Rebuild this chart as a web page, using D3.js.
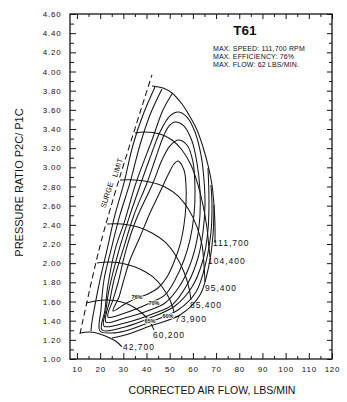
<!DOCTYPE html>
<html><head><meta charset="utf-8">
<script src="https://cdn.jsdelivr.net/npm/d3@7"></script>
<style>
body{margin:0;background:#fff}
svg{display:block}
text{font-family:"Liberation Sans",Arial,Helvetica,sans-serif;fill:#111}
</style>
</head><body>
<svg id="c" width="347" height="402"></svg>
<script>
// ---------- data (flow lbs/min, pressure ratio) ----------
const xTickLabels = [10,20,30,40,50,60,70,80,90,100,110,120];
const yTickLabels = ["1.00","1.20","1.40","1.60","1.80","2.00","2.20","2.40","2.60","2.80","3.00","3.20","3.40","3.60","3.80","4.00","4.20","4.40","4.60"];

const surgeLine = [[11.29,1.261],[19.49,2.137],[26.39,2.732],[42.36,3.964]];

const speedNames = ["111,700","104,400","95,400","85,400","73,900","60,200","42,700"];
const speed111700 = [[42.36,3.849],[47.10,3.828],[50.98,3.776],[55.30,3.661],[58.32,3.546],[61.77,3.390],[64.36,3.212],[66.51,3.024],[68.24,2.816],[69.10,2.607],[69.53,2.398],[69.53,2.210]];
const speed104400 = [[35.02,3.358],[39.34,3.369],[45.81,3.348],[50.98,3.285],[55.30,3.181],[59.18,3.024],[62.20,2.816],[64.36,2.607],[66.08,2.367],[66.94,2.158],[67.38,2.064]];
const speed95400  = [[28.55,2.868],[35.02,2.868],[41.49,2.847],[47.96,2.795],[53.57,2.701],[58.32,2.555],[61.77,2.378],[63.93,2.190],[64.79,1.981],[65.22,1.803]];
const speed85400  = [[22.94,2.409],[29.41,2.409],[36.32,2.377],[42.36,2.315],[47.96,2.221],[52.71,2.075],[56.16,1.908],[58.32,1.741],[59.18,1.616]];
const speed73900  = [[18.63,2.002],[24.24,2.012],[30.71,1.992],[37.18,1.939],[42.79,1.856],[47.10,1.741],[50.12,1.616],[51.85,1.491]];
const speed60200  = [[13.88,1.584],[22.08,1.616],[30.71,1.584],[38.04,1.480],[41.49,1.386],[43.22,1.303]];
const speed42700  = [[11.29,1.271],[15.61,1.282],[19.92,1.261],[24.24,1.219],[27.26,1.177],[29.41,1.125]];
const speedLabelAt = [[68.67,2.179],[66.51,1.991],[65.22,1.710],[58.75,1.532],[52.28,1.386],[42.79,1.219],[29.84,1.094]];

// efficiency islands (closed loops)
const eff76 = [[53.57,3.066],[56.16,2.972],[57.02,2.816],[57.02,2.607],[56.16,2.398],[54.43,2.190],[51.85,2.012],[48.83,1.856],[44.94,1.741],[40.63,1.678],[35.88,1.637],[30.71,1.574],[25.53,1.501],[28.12,1.647],[29.84,1.793],[32.86,2.033],[37.18,2.273],[41.49,2.524],[45.81,2.743],[49.26,2.920],[51.85,3.035]];
const eff74 = [[53.57,3.285],[57.45,3.233],[60.04,3.056],[60.91,2.764],[60.47,2.503],[58.75,2.242],[56.16,2.033],[52.28,1.824],[47.96,1.668],[41.49,1.584],[30.71,1.480],[23.37,1.438],[25.53,1.616],[27.69,1.793],[31.14,2.137],[35.45,2.450],[42.79,2.837],[46.67,3.077],[50.12,3.223]];
const eff72 = [[52.28,3.473],[56.16,3.431],[59.61,3.275],[61.77,3.045],[63.06,2.764],[63.06,2.503],[61.77,2.242],[58.75,1.981],[54.00,1.751],[47.96,1.584],[41.49,1.511],[30.71,1.428],[22.51,1.386],[24.24,1.616],[25.96,1.824],[29.84,2.137],[34.59,2.503],[40.20,2.837],[43.65,3.077],[47.53,3.337],[49.69,3.431]];
const eff70 = [[53.57,3.577],[57.45,3.525],[60.91,3.369],[63.49,3.129],[64.79,2.868],[65.22,2.607],[64.36,2.325],[62.20,2.054],[57.89,1.793],[50.98,1.563],[43.65,1.480],[30.71,1.376],[21.65,1.344],[22.51,1.511],[23.81,1.720],[28.12,2.137],[32.86,2.503],[37.61,2.837],[41.49,3.097],[45.81,3.369],[50.12,3.536]];
// open contours, cut by the speed lines
const eff68 = [[50.98,3.765],[47.10,3.598],[42.36,3.285],[35.45,2.837],[30.71,2.450],[26.39,2.137],[23.37,1.772],[22.08,1.511],[20.79,1.303],[30.71,1.334],[41.49,1.428],[52.28,1.553],[59.61,1.751],[64.36,2.033],[66.51,2.346],[66.94,2.659],[66.51,2.993]];
const eff65 = [[46.67,3.817],[41.49,3.546],[37.18,3.233],[32.86,2.837],[28.55,2.503],[24.67,2.137],[21.65,1.824],[20.35,1.511],[19.92,1.292],[25.10,1.271],[30.71,1.292],[41.49,1.386],[53.57,1.511],[61.34,1.699],[65.65,2.012],[67.81,2.325],[68.24,2.607],[67.81,2.816]];
const eff60a = [[43.65,3.838],[38.47,3.546],[34.16,3.233],[30.28,2.837],[26.39,2.503],[22.94,2.137],[19.92,1.824],[17.77,1.563],[16.47,1.386],[16.04,1.292]];
const eff60b = [[25.10,1.219],[30.71,1.250],[41.49,1.344],[54.43,1.459],[63.06,1.668],[66.94,1.981],[68.67,2.294],[69.10,2.607]];

const effNames = ["76%","70%","65%","60%"];
const effLabelAt = [[35.88,1.647],[43.22,1.584],[41.49,1.397],[49.26,1.449]];

const infoLines = ["MAX. SPEED: 111,700 RPM","MAX. EFFICIENCY: 76%","MAX. FLOW: 62 LBS/MIN."];

// ---------- drawing ----------
const svg = d3.select("#c");
const x = d3.scaleLinear().domain([7,120]).range([70,332]);
const y = d3.scaleLinear().domain([1,4.6]).range([359,14]);
const ink = "#141414";

svg.append("rect").attr("width",347).attr("height",402).attr("fill","#fff");

function styleAxis(g){
  g.select(".domain").remove();
  g.selectAll(".tick line").attr("stroke",ink).attr("stroke-width",1);
  g.selectAll(".tick text").attr("fill",ink).style("font-size","8px").style("letter-spacing","0.8px")
    .style("font-family","'Liberation Sans',Arial,sans-serif");
}
const xMinor = d3.range(15,120,10);
const yMinor = d3.range(1.1,4.6,0.2);
const yMajorVals = yTickLabels.map(Number);

// bottom
svg.append("g").attr("transform","translate(0,359)")
  .call(d3.axisBottom(x).tickValues(xTickLabels).tickSizeInner(-6).tickSizeOuter(0).tickPadding(7.3).tickFormat(d3.format("d")))
  .call(styleAxis);
svg.append("g").attr("transform","translate(0,359)")
  .call(d3.axisBottom(x).tickValues(xMinor).tickSizeInner(-3).tickSizeOuter(0).tickFormat(""))
  .call(styleAxis);
// top
svg.append("g").attr("transform","translate(0,14)")
  .call(d3.axisTop(x).tickValues(xTickLabels).tickSizeInner(-5).tickSizeOuter(0).tickFormat(""))
  .call(styleAxis);
svg.append("g").attr("transform","translate(0,14)")
  .call(d3.axisTop(x).tickValues(xMinor).tickSizeInner(-3).tickSizeOuter(0).tickFormat(""))
  .call(styleAxis);
// left
svg.append("g").attr("transform","translate(70,0)")
  .call(d3.axisLeft(y).tickValues(yMajorVals).tickSizeInner(-6).tickSizeOuter(0).tickPadding(8.5).tickFormat(d3.format(".2f")))
  .call(styleAxis);
svg.append("g").attr("transform","translate(70,0)")
  .call(d3.axisLeft(y).tickValues(yMinor).tickSizeInner(-4).tickSizeOuter(0).tickFormat(""))
  .call(styleAxis);
// right
svg.append("g").attr("transform","translate(332,0)")
  .call(d3.axisRight(y).tickValues(yMajorVals).tickSizeInner(-5).tickSizeOuter(0).tickFormat(""))
  .call(styleAxis);
svg.append("g").attr("transform","translate(332,0)")
  .call(d3.axisRight(y).tickValues(yMinor).tickSizeInner(-3).tickSizeOuter(0).tickFormat(""))
  .call(styleAxis);

// frame
svg.append("rect").attr("x",x(7)).attr("y",y(4.6)).attr("width",x(120)-x(7)).attr("height",y(1)-y(4.6))
  .attr("fill","none").attr("stroke",ink).attr("stroke-width",1.3);

const lineOpen = d3.line().x(d=>x(d[0])).y(d=>y(d[1])).curve(d3.curveCatmullRom.alpha(0.5));
const lineClosed = d3.line().x(d=>x(d[0])).y(d=>y(d[1])).curve(d3.curveCatmullRomClosed.alpha(0.5));

const plot = svg.append("g").attr("fill","none").attr("stroke",ink).attr("stroke-width",1.05);

// surge
plot.append("path").attr("d",lineOpen(surgeLine)).attr("stroke-dasharray","6,3.5");

// efficiency
[eff76,eff74,eff72,eff70].forEach(c=>plot.append("path").attr("d",lineClosed(c)));
[eff68,eff65,eff60a,eff60b].forEach(c=>plot.append("path").attr("d",lineOpen(c)));

// speed lines
const speeds = [speed111700,speed104400,speed95400,speed85400,speed73900,speed60200,speed42700];
speeds.forEach(s=>plot.append("path").attr("d",lineOpen(s)));

// speed labels
speedNames.forEach((t,i)=>{
  svg.append("text").attr("x",x(speedLabelAt[i][0])).attr("y",y(speedLabelAt[i][1]))
    .style("font-size","8.5px").style("letter-spacing","1px").text(t);
});
// efficiency labels
effNames.forEach((t,i)=>{
  svg.append("text").attr("x",x(effLabelAt[i][0])).attr("y",y(effLabelAt[i][1]))
    .attr("text-anchor","middle").attr("dy","0.35em")
    .style("font-size","5.5px").style("font-weight","bold")
    .attr("stroke","#fff").attr("stroke-width",1.6).style("paint-order","stroke").text(t);
});

// surge limit label
const ang = Math.atan2(y(3.964)-y(2.732), x(42.36)-x(26.39))*180/Math.PI;
[["SURGE",[22.94,2.711]],["LIMIT",[27.47,2.998]]].forEach(([t,p])=>{
  svg.append("text").attr("transform",`translate(${x(p[0])},${y(p[1])}) rotate(${ang})`)
    .attr("text-anchor","middle").attr("dy","0.35em").style("font-size","7.5px").text(t);
});

// title block
svg.append("text").attr("x",245).attr("y",35).attr("text-anchor","middle")
  .style("font-size","13.5px").style("font-weight","bold").text("T61");
infoLines.forEach((t,i)=>{
  svg.append("text").attr("x",213).attr("y",51+i*8.2).style("font-size","7px").style("letter-spacing","0.15px").text(t);
});

// axis titles
svg.append("text").attr("transform","translate(19,182.5) rotate(-90)").attr("text-anchor","middle")
  .attr("dy","0.35em").style("font-size","11px").text("PRESSURE RATIO P2C/ P1C");
svg.append("text").attr("x",212).attr("y",394).attr("text-anchor","middle")
  .style("font-size","10.5px").text("CORRECTED AIR FLOW, LBS/MIN");
</script>
</body></html>
